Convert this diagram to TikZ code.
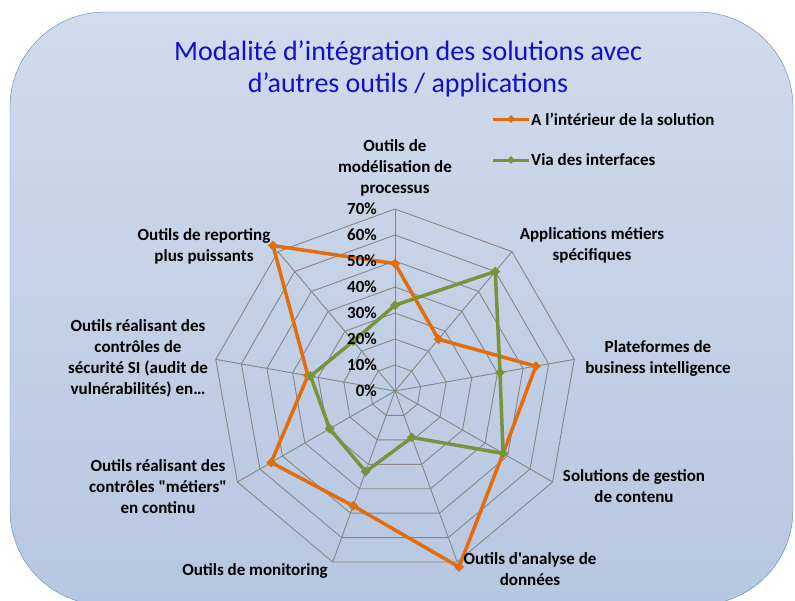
\documentclass[tikz,border=0pt]{standalone}
\usepackage{fontspec}
\setmainfont{Carlito}[Ligatures=TeXOff]
\usetikzlibrary{positioning,shapes.geometric,calc}
\definecolor{orangeA}{RGB}{228,108,10}
\definecolor{greenB}{RGB}{119,147,60}
\definecolor{gridgray}{RGB}{134,134,134}
\definecolor{bgtop}{RGB}{208,219,236}
\definecolor{bgbot}{RGB}{182,199,225}
\definecolor{frameblue}{RGB}{90,135,195}
\definecolor{titleblue}{RGB}{16,16,204}
\tikzset{axis label/.style={font=\bfseries\fontsize{17}{21}\selectfont, align=center, inner sep=0pt},
         tick label/.style={font=\bfseries\fontsize{17}{17}\selectfont, anchor=east, inner sep=0pt},
         legend text/.style={font=\bfseries\fontsize{17}{17}\selectfont, anchor=west, inner sep=0pt},
         grid line/.style={draw=gridgray, line width=0.9pt},
         serieA/.style={draw=orangeA, line width=3.5pt, line join=round},
         serieB/.style={draw=greenB, line width=3.5pt, line join=round},
         markA/.style={diamond, fill=orangeA, inner sep=0pt, minimum size=10pt},
         markB/.style={diamond, fill=greenB, inner sep=0pt, minimum size=10pt}}

\begin{document}
\begin{tikzpicture}[x=1pt, y=-1pt]
  \useasboundingbox (0,0) rectangle (795,600);
  \shade[top color=bgtop, bottom color=bgbot, draw=frameblue, rounded corners=95pt]
    (10,12) rectangle (793,605);

  % titre
  \node[font=\fontsize{28}{32}\selectfont, text=titleblue, align=center] (titre) at (408,69)
    {Modalité d’intégration des solutions avec\\d’autres outils / applications};

  \begin{scope}[shift={(395,391)}]
    \coordinate (O) at (0,0);
    % toile
    \foreach \r in {1,...,7}
      \draw[grid line] (-90:26*\r) \foreach \k in {1,...,8}{ -- (40*\k-90:26*\r)} -- cycle;
    \foreach \k in {0,...,8}{
      \coordinate (ax\k) at (40*\k-90:182);
      \draw[grid line] (O) -- (ax\k);
    }
    % series
    \foreach \v [count=\k from 0] in {49,26,55,48,72,47,55,34,73}
      \coordinate (a\k) at (40*\k-90:2.6*\v);
    \foreach \v [count=\k from 0] in {33,60,41,48,19,33,29,33,25}
      \coordinate (b\k) at (40*\k-90:2.6*\v);
    \draw[serieA] (a0) \foreach \k in {1,...,8}{ -- (a\k)} -- cycle;
    \foreach \k in {0,...,8} \node[markA] (ma\k) at (a\k) {};
    \draw[serieB] (b0) \foreach \k in {1,...,8}{ -- (b\k)} -- cycle;
    \foreach \k in {0,...,8} \node[markB] (mb\k) at (b\k) {};
    % graduations
    \foreach \r in {0,...,7}{
      \pgfmathtruncatemacro\pct{10*\r}
      \node[tick label] (t\r) at (-18,-26*\r) {\pct\%};
    }
  \end{scope}

  % libelles des axes
  \node[axis label] (lblModel)   at (395,168) {Outils de\\modélisation de\\processus};
  \node[axis label] (lblApps)    at (592,245) {Applications métiers\\spécifiques};
  \node[axis label] (lblBI)      at (658,358) {Plateformes de\\business intelligence};
  \node[axis label] (lblGED)     at (634,486) {Solutions de gestion\\de contenu};
  \node[axis label] (lblAnalyse) at (530,569) {Outils d'analyse de\\données};
  \node[axis label] (lblMonit)   at (255,571) {Outils de monitoring};
  \node[axis label] (lblMetier)  at (158,487) {Outils réalisant des\\contrôles "métiers"\\en continu};
  \node[axis label] (lblSecu)    at (138,358) {Outils réalisant des\\contrôles de\\sécurité SI (audit de\\vulnérabilités) en…};
  \node[axis label] (lblReport)  at (204,246) {Outils de reporting\\plus puissants};

  % legende
  \coordinate (legA0) at (493,119);
  \coordinate (legA1) at (529,119);
  \draw[draw=orangeA, line width=3pt] (legA0) -- (legA1);
  \node[markA, minimum size=8pt] (legAm) at ($(legA0)!0.5!(legA1)$) {};
  \node[legend text, right=2pt of legA1] (legAt) {A l’intérieur de la solution};
  \coordinate (legB0) at (493,160);
  \coordinate (legB1) at (529,160);
  \draw[draw=greenB, line width=3pt] (legB0) -- (legB1);
  \node[markB, minimum size=8pt] (legBm) at ($(legB0)!0.5!(legB1)$) {};
  \node[legend text, right=2pt of legB1] (legBt) {Via des interfaces};
\end{tikzpicture}
\end{document}
